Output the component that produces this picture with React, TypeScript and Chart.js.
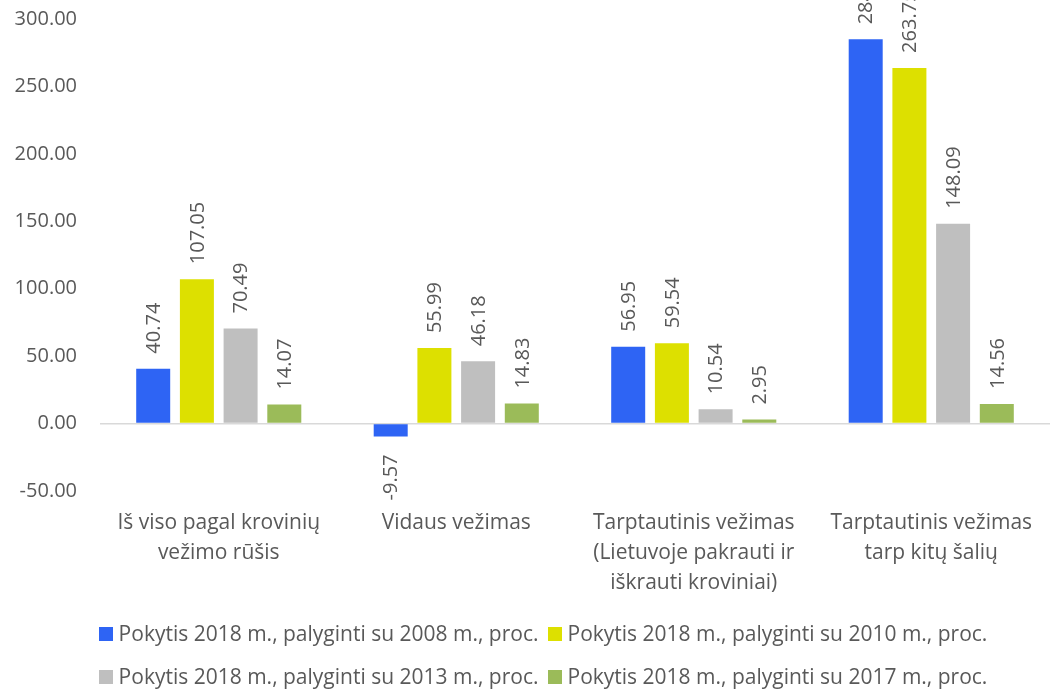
import React, { useEffect, useRef } from "react";
import { Chart, registerables } from "chart.js";

Chart.register(...registerables);

const categories: string[][] = [
  ["Iš viso pagal krovinių", "vežimo rūšis"],
  ["Vidaus vežimas"],
  ["Tarptautinis vežimas", "(Lietuvoje pakrauti ir", "iškrauti kroviniai)"],
  ["Tarptautinis vežimas", "tarp kitų šalių"],
];

const seriesNames = [
  "Pokytis 2018 m., palyginti su 2008 m., proc.",
  "Pokytis 2018 m., palyginti su 2010 m., proc.",
  "Pokytis 2018 m., palyginti su 2013 m., proc.",
  "Pokytis 2018 m., palyginti su 2017 m., proc.",
];

const vs2008 = [40.74, -9.57, 56.95, 284.93];
const vs2010 = [107.05, 55.99, 59.54, 263.75];
const vs2013 = [70.49, 46.18, 10.54, 148.09];
const vs2017 = [14.07, 14.83, 2.95, 14.56];

const colors = ["#2E64F4", "#DDE000", "#BFBFBF", "#9BBB59"];

const yTicks = [-50, 0, 50, 100, 150, 200, 250, 300];

const FONT = "'Open Sans', 'DejaVu Sans', sans-serif";
const TEXT = "#595959";

const labelPlugin = {
  id: "barLabels",
  afterDatasetsDraw(chart: any) {
    const ctx = chart.ctx;
    ctx.save();
    ctx.font = `20px ${FONT}`;
    ctx.fillStyle = TEXT;
    ctx.textBaseline = "middle";
    chart.data.datasets.forEach((ds: any, di: number) => {
      const meta = chart.getDatasetMeta(di);
      meta.data.forEach((bar: any, i: number) => {
        const v = ds.data[i] as number;
        const txt = v.toFixed(2);
        ctx.save();
        if (v >= 0) {
          ctx.translate(bar.x, bar.y - 15);
          ctx.rotate(-Math.PI / 2);
          ctx.textAlign = "left";
        } else {
          ctx.translate(bar.x, bar.y + 18);
          ctx.rotate(-Math.PI / 2);
          ctx.textAlign = "right";
        }
        ctx.fillText(txt, 0, 1);
        ctx.restore();
      });
    });
    ctx.restore();
  },
};

// custom legend: 2 items per row, Excel-like tight spacing
const legendPlugin = {
  id: "customLegend",
  afterDraw(chart: any) {
    const ctx = chart.ctx;
    const box = 14;
    const boxGap = 6;
    const itemGap = 9;
    const rowYs = [634, 677];
    const centerX = 543;
    ctx.save();
    ctx.font = `21px ${FONT}`;
    ctx.textBaseline = "middle";
    const ds = chart.data.datasets;
    for (let r = 0; r < 2; r++) {
      const items = ds.slice(r * 2, r * 2 + 2);
      const widths = items.map((d: any) => box + boxGap + ctx.measureText(d.label).width);
      const total = widths.reduce((a: number, b: number) => a + b, 0) + itemGap * (items.length - 1);
      let x = centerX - total / 2;
      const y = rowYs[r];
      items.forEach((d: any, k: number) => {
        ctx.fillStyle = d.backgroundColor;
        ctx.fillRect(Math.round(x), Math.round(y - box / 2), box, box);
        ctx.fillStyle = TEXT;
        ctx.textAlign = "left";
        ctx.fillText(d.label, x + box + boxGap, y + 1);
        x += widths[k] + itemGap;
      });
    }
    ctx.restore();
  },
};

export default function App() {
  const ref = useRef<HTMLCanvasElement | null>(null);

  useEffect(() => {
    document.body.style.margin = "0";
    document.body.style.overflow = "hidden";
    const canvas = ref.current;
    if (!canvas) return;
    const series = [vs2008, vs2010, vs2013, vs2017];
    const chart = new Chart(canvas, {
      type: "bar",
      data: {
        labels: categories,
        datasets: series.map((d, i) => ({
          label: seriesNames[i],
          data: d,
          backgroundColor: colors[i],
          borderWidth: 0,
          categoryPercentage: 0.736,
          barPercentage: 0.778,
        })),
      },
      options: {
        animation: false,
        responsive: false,
        maintainAspectRatio: false,
        layout: { padding: { top: 19, bottom: 89, left: 0, right: 0 } },
        plugins: {
          tooltip: { enabled: false },
          legend: { display: false },
        },
        scales: {
          x: {
            grid: { display: false, drawTicks: false },
            border: { display: false },
            ticks: {
              color: TEXT,
              font: { family: FONT, size: 21, lineHeight: 1.43 },
              padding: 17,
              maxRotation: 0,
              autoSkip: false,
            },
            afterFit: (s: any) => {
              s.height = 110;
            },
          },
          y: {
            min: -50,
            max: 300,
            afterBuildTicks: (s: any) => {
              s.ticks = yTicks.map((v) => ({ value: v }));
            },
            grid: {
              drawTicks: false,
              color: (c: any) => (c.tick && c.tick.value === 0 ? "#D9D9D9" : "rgba(0,0,0,0)"),
              lineWidth: 1.5,
            },
            border: { display: false },
            ticks: {
              color: TEXT,
              font: { family: FONT, size: 20 },
              padding: 23,
              callback: (v: any) => Number(v).toFixed(2),
            },
            afterFit: (s: any) => {
              s.width = 100;
              s.paddingTop = 0;
              s.paddingBottom = 0;
            },
          },
        },
      },
      plugins: [labelPlugin, legendPlugin],
    });
    return () => chart.destroy();
  }, []);

  return <canvas ref={ref} width={1050} height={690} style={{ display: "block" }} />;
}
